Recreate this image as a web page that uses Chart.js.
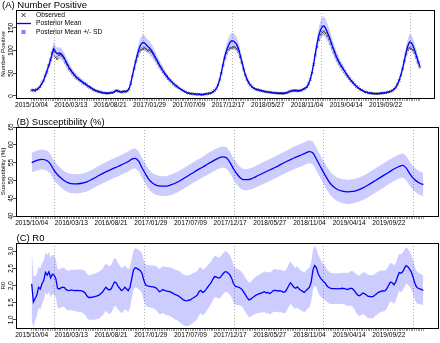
<!DOCTYPE html>
<html><head><meta charset="utf-8">
<script src="https://cdn.jsdelivr.net/npm/chart.js@4.4.1/dist/chart.umd.min.js"></script>
<style>
html,body{margin:0;padding:0;background:#fff;width:440px;height:343px;overflow:hidden}
canvas{position:absolute;left:0}
</style></head><body>
<canvas id="cA" width="440" height="112" style="top:0"></canvas>
<canvas id="cB" width="440" height="116" style="top:112px"></canvas>
<canvas id="cC" width="440" height="115" style="top:228px"></canvas>
<script>
// ---- x axis (weeks since 2015/10/04) ----
const tickWeeks = [0,23,46,69,92,115,138,161,184,207];
const tickLabels = ['2015/10/04','2016/03/13','2016/08/21','2017/01/29','2017/07/09','2017/12/17','2018/05/27','2018/11/04','2019/04/14','2019/09/22'];
const yearStartWeeks = [13,65,117,169,221];

// ---- (A) Number Positive ----
const observedA = [
12,13,11,14,16,20,28,33,45,52, 68,80,95,100,85,82,90,91,88,83,
74,68,60,56,50,46,41,38,35,33, 29,27,25,21,19,17,14,12,11,9,
9,7,7,6,6,6,7,7,9,11, 12,10,9,8,10,9,11,15,27,44,
60,76,88,98,102,104,106,103,100,101, 97,92,85,79,72,65,60,53,48,43,
38,34,31,27,23,21,18,15,13,11, 9,7,6,5,5,4,4,3,4,3,
3,4,4,5,5,7,9,12,16,24, 35,50,67,83,94,102,105,106,108,107,
104,98,86,73,58,46,36,29,24,20, 17,15,14,13,12,11,10,9,9,8,
8,7,7,6,6,6,6,5,6,7, 8,10,11,12,12,11,11,12,13,15,
17,20,27,36,50,69,90,108,124,135, 140,142,138,132,125,115,105,96,87,79,
72,66,60,54,48,43,38,33,29,25, 21,18,15,13,11,9,8,7,6,6,
5,5,5,5,6,6,7,7,8,9, 10,12,15,19,26,34,46,60,77,92,
102,106,104,101,95,85,74,64];
const meanA = [
14,13,13,14,17,21,27,34,44,55, 66,78,92,104,97,93,95,94,90,84,
77,69,62,57,51,47,42,39,36,33, 30,28,25,22,20,17,15,13,11,10,
9,8,7,7,6,6,7,7,8,11, 12,10,9,9,10,10,11,16,28,45,
62,78,92,106,114,118,117,113,109,106, 101,95,88,81,74,67,61,55,49,44,
39,35,31,27,24,21,18,16,13,11, 9,7,6,5,5,4,4,4,4,3,
3,4,4,5,6,7,9,12,16,24, 36,52,70,87,100,110,118,122,121,118,
113,104,90,75,60,47,37,29,24,20, 17,15,14,13,12,11,10,9,9,8,
8,7,7,7,6,6,6,6,6,7, 8,10,11,11,12,12,11,12,13,15,
17,20,27,37,52,72,95,116,134,146, 153,154,149,140,131,120,109,99,89,80,
73,67,61,55,49,43,38,33,29,25, 21,18,15,13,11,9,8,7,6,6,
5,5,5,5,6,6,7,7,8,9, 10,12,15,19,26,35,47,61,79,96,
110,119,118,111,101,89,77,66];
const sdA = [
3,3,3,3,3,4,4,5,6,8, 9,11,13,15,14,13,13,13,12,12,
11,10,9,8,8,7,7,6,6,5, 5,5,4,4,4,4,3,3,3,3,
3,3,2,2,2,2,2,2,2,3, 3,3,3,3,3,3,3,3,5,7,
9,11,13,15,16,17,17,16,15,15, 14,13,12,11,10,10,9,8,7,7,
6,5,5,4,4,4,3,3,3,3, 2,2,2,2,2,2,2,2,2,2,
2,2,2,2,2,2,2,3,3,4, 6,8,10,12,14,16,17,17,17,17,
16,15,13,11,9,7,6,5,4,4, 3,3,3,3,3,3,2,2,2,2,
2,2,2,2,2,2,2,2,2,2, 2,2,3,3,3,3,3,3,3,3,
3,4,5,6,8,10,13,16,18,20, 21,21,20,19,18,17,15,14,13,12,
11,10,9,8,7,6,6,5,5,4, 4,3,3,3,2,2,2,2,2,2,
2,2,2,2,2,2,2,2,2,2, 2,3,3,4,5,6,7,9,12,14,
16,17,17,16,15,13,12,10];
const yTicksA = [0,50,100,150];

// ---- (B) Susceptibility (%) ----
const weeksB = [0,3,6,9,11,13,15,17,19,21,23,26,29,32,35,38,41,44,47,50,53,56,58,60,62,64,66,68,70,72,75,78,81,84,87,90,93,96,99,102,105,108,111,113,115,117,119,121,123,125,128,131,134,137,140,143,146,149,152,155,158,161,163,165,167,169,171,173,175,177,180,183,186,189,192,195,198,201,204,207,210,213,215,217,219,221,223,225,227];
const meanB = [55.0,55.6,55.9,55.5,54.5,52.8,51.6,50.7,49.9,49.4,49.1,49.0,49.2,49.6,50.3,51.1,51.9,52.6,53.3,53.9,54.6,55.3,56.0,56.2,55.4,53.5,51.8,50.2,49.3,48.7,48.4,48.4,48.8,49.4,50.2,51.1,52.0,52.9,53.7,54.6,55.4,56.2,56.6,56.3,55.0,53.2,51.8,50.7,50.2,50.2,50.6,51.3,52.0,52.7,53.4,54.1,54.9,55.6,56.3,56.9,57.5,58.1,57.7,56.0,54.2,52.4,50.7,49.2,48.2,47.5,47.0,46.8,46.9,47.3,47.9,48.7,49.6,50.5,51.4,52.3,53.2,53.9,54.2,53.5,52.0,50.7,49.8,49.2,48.8];
const sdB = [2.8,2.8,2.8,2.8,2.8,2.8,2.7,2.7,2.7,2.7,2.7,2.7,2.7,2.7,2.7,2.7,2.8,2.8,2.8,2.8,2.8,2.8,2.8,2.8,2.8,2.8,2.8,2.8,2.8,2.8,2.8,2.8,2.9,2.9,2.9,2.9,2.9,2.9,2.9,3.0,3.0,3.0,3.0,3.0,3.0,3.0,3.0,3.0,3.0,3.0,3.0,3.0,3.1,3.1,3.1,3.1,3.1,3.1,3.2,3.2,3.2,3.2,3.2,3.2,3.2,3.2,3.3,3.3,3.3,3.3,3.4,3.4,3.4,3.4,3.4,3.4,3.4,3.4,3.4,3.4,3.4,3.4,3.4,3.4,3.4,3.3,3.3,3.3,3.3];
const yTicksB = [40,45,50,55,60,65];

// ---- (C) R0 ----
const meanC = [
2.05,1.52,1.62,1.72,1.95,1.90,2.05,2.15,2.38,2.30, 2.40,2.22,2.33,2.30,2.20,1.92,1.90,1.93,1.95,1.94,
1.88,1.86,1.85,1.87,1.86,1.85,1.86,1.85,1.85,1.84, 1.82,1.78,1.70,1.65,1.65,1.66,1.67,1.68,1.70,1.72,
1.76,1.80,1.88,1.95,1.90,1.87,1.90,2.00,2.10,2.08, 1.98,1.92,1.85,1.88,1.95,1.90,1.85,1.95,2.20,2.45,
2.52,2.50,2.47,2.43,2.35,2.15,2.02,1.99,1.98,1.97, 1.96,1.95,1.93,1.88,1.82,1.84,1.88,1.86,1.84,1.83,
1.82,1.80,1.77,1.74,1.72,1.70,1.66,1.62,1.58,1.56, 1.55,1.57,1.58,1.62,1.65,1.68,1.72,1.82,1.86,1.80,
1.82,1.88,1.95,2.02,2.08,2.18,2.26,2.25,2.22,2.22, 2.28,2.35,2.40,2.40,2.36,2.30,2.20,2.05,1.98,1.96,
1.95,1.92,1.88,1.80,1.72,1.64,1.58,1.60,1.65,1.68, 1.72,1.74,1.76,1.78,1.80,1.82,1.78,1.80,1.76,1.80,
1.85,1.86,1.85,1.84,1.85,1.83,1.80,1.82,1.90,2.00, 2.08,2.02,1.95,1.92,1.96,1.90,1.86,1.83,1.80,1.85,
1.90,1.95,2.10,2.45,2.58,2.52,2.35,2.25,2.18,2.12, 2.08,2.00,1.95,1.92,1.91,1.91,1.91,1.90,1.91,1.91,
1.92,1.91,1.90,1.88,1.90,1.92,1.90,1.85,1.78,1.72, 1.70,1.74,1.78,1.76,1.72,1.68,1.68,1.67,1.68,1.72,
1.76,1.80,1.82,1.84,1.84,1.85,1.92,2.02,2.10,2.08, 2.02,2.10,2.25,2.38,2.36,2.40,2.50,2.58,2.55,2.48,
2.40,2.25,2.08,1.96,1.92,1.90,1.88,1.86];
const sdC = [
1.05,0.75,0.65,0.62,0.60,0.60,0.60,0.58,0.58,0.58, 0.58,0.58,0.58,0.56,0.55,0.56,0.57,0.57,0.57,0.57,
0.57,0.58,0.58,0.59,0.60,0.60,0.61,0.62,0.62,0.63, 0.63,0.64,0.64,0.65,0.66,0.66,0.67,0.67,0.68,0.68,
0.68,0.68,0.69,0.69,0.70,0.70,0.70,0.70,0.70,0.69, 0.68,0.67,0.66,0.65,0.64,0.63,0.62,0.60,0.58,0.57,
0.57,0.57,0.57,0.58,0.58,0.59,0.60,0.60,0.61,0.62, 0.62,0.63,0.64,0.65,0.66,0.67,0.68,0.69,0.70,0.70,
0.71,0.72,0.72,0.73,0.73,0.74,0.74,0.74,0.74,0.74, 0.74,0.74,0.73,0.73,0.72,0.71,0.70,0.69,0.68,0.67,
0.66,0.65,0.64,0.63,0.62,0.61,0.60,0.60,0.60,0.60, 0.60,0.60,0.60,0.59,0.58,0.57,0.56,0.55,0.54,0.53,
0.52,0.51,0.50,0.50,0.50,0.50,0.50,0.51,0.52,0.53, 0.54,0.55,0.56,0.57,0.58,0.59,0.60,0.60,0.61,0.61,
0.62,0.62,0.62,0.62,0.62,0.62,0.62,0.62,0.62,0.62, 0.62,0.61,0.61,0.60,0.60,0.59,0.58,0.58,0.58,0.58,
0.58,0.58,0.58,0.58,0.58,0.57,0.56,0.55,0.53,0.51, 0.50,0.48,0.47,0.46,0.45,0.45,0.45,0.45,0.45,0.45,
0.45,0.46,0.47,0.48,0.49,0.50,0.52,0.54,0.56,0.58, 0.59,0.60,0.61,0.62,0.63,0.63,0.63,0.63,0.63,0.62,
0.62,0.61,0.61,0.60,0.60,0.59,0.58,0.57,0.56,0.56, 0.56,0.55,0.55,0.55,0.55,0.55,0.54,0.53,0.52,0.51,
0.50,0.49,0.48,0.47,0.46,0.45,0.44,0.44];
const yTicksC = [1.0,1.5,2.0,2.5,3.0];

// ---------------- drawing ----------------
const FONT = '"Liberation Sans", Arial, sans-serif';
const nWeeks = meanA.length;
const allWeeks = meanA.map((_, i) => i);
const pad = (nWeeks - 1) * 0.04;
const pts = (xs, ys) => ys.map((v, i) => ({x: xs[i], y: v}));
const BAND = 'rgba(0,0,255,0.2)';

function xAxis(h) {
  return {
    type: 'linear', min: -pad, max: nWeeks - 1 + pad,
    afterBuildTicks: s => { s.ticks = allWeeks.map(w => ({value: w})); },
    afterFit: s => { s.height = h; },
    ticks: {autoSkip: false, maxRotation: 0, minRotation: 0, padding: 0, color: '#000',
      font: {family: FONT, size: 6.6},
      callback: v => { const i = tickWeeks.indexOf(v); return i >= 0 ? tickLabels[i] : ''; }},
    grid: {drawOnChartArea: false, drawTicks: true, tickLength: 3, color: '#555', lineWidth: 0.6},
    border: {display: false}
  };
}
function yAxis(min, max, ticks) {
  return {
    type: 'linear', min, max,
    afterBuildTicks: s => { s.ticks = ticks.map(v => ({value: v})); },
    afterFit: s => { s.width = 16; },
    ticks: {display: false},
    grid: {drawOnChartArea: false, drawTicks: true, tickLength: 3, color: '#000', lineWidth: 0.7},
    border: {display: false}
  };
}
function decor(cfg) {
  return {
    id: 'decor',
    beforeDatasetsDraw(chart) {
      const ctx = chart.ctx, ca = chart.chartArea, xs = chart.scales.x;
      ctx.save();
      ctx.strokeStyle = '#9a9a9a'; ctx.lineWidth = 0.8; ctx.setLineDash([1, 2]);
      yearStartWeeks.forEach(w => {
        const x = Math.round(xs.getPixelForValue(w)) + 0.5;
        ctx.beginPath(); ctx.moveTo(x, ca.top); ctx.lineTo(x, ca.bottom); ctx.stroke();
      });
      ctx.restore();
    },
    afterDraw(chart) {
      const ctx = chart.ctx, ca = chart.chartArea, ys = chart.scales.y;
      ctx.save();
      ctx.strokeStyle = '#000'; ctx.lineWidth = 1;
      ctx.strokeRect(Math.round(ca.left) + 0.5, Math.round(ca.top) + 0.5,
        Math.round(ca.right - ca.left) - 1, Math.round(ca.bottom - ca.top));
      ctx.fillStyle = '#000';
      ctx.font = cfg.titleSize + 'px ' + FONT;
      ctx.textAlign = 'left'; ctx.textBaseline = 'alphabetic';
      ctx.fillText(cfg.title, cfg.titleX, ca.top - 2);
      ctx.font = '6.3px ' + FONT;
      ctx.textAlign = 'center'; ctx.textBaseline = 'middle';
      cfg.yticks.forEach(v => {
        const y = ys.getPixelForValue(v);
        ctx.save(); ctx.translate(10.8, y); ctx.rotate(-Math.PI / 2);
        ctx.fillText(cfg.fmt(v), 0, 0); ctx.restore();
      });
      ctx.font = '6.2px ' + FONT;
      ctx.save(); ctx.translate(3.4, (ca.top + ca.bottom) / 2); ctx.rotate(-Math.PI / 2);
      ctx.fillText(cfg.ytitle, 0, 0); ctx.restore();
      if (cfg.legend) {
        ctx.font = '6.7px ' + FONT; ctx.textAlign = 'left';
        const lx = 23.5, tx = 36;
        ctx.strokeStyle = '#222'; ctx.lineWidth = 0.9;
        ctx.beginPath(); ctx.moveTo(lx - 2, 13); ctx.lineTo(lx + 2, 17); ctx.moveTo(lx - 2, 17); ctx.lineTo(lx + 2, 13); ctx.stroke();
        ctx.fillText(cfg.legend[0], tx, 15.5);
        ctx.strokeStyle = '#0000ff'; ctx.lineWidth = 1.3;
        ctx.beginPath(); ctx.moveTo(17, 23.5); ctx.lineTo(31, 23.5); ctx.stroke();
        ctx.fillText(cfg.legend[1], tx, 23.5);
        ctx.fillStyle = '#8080ff'; ctx.fillRect(lx - 2, 30, 4, 4);
        ctx.fillStyle = '#000';
        ctx.fillText(cfg.legend[2], tx, 32);
      }
      ctx.restore();
    }
  };
}
function baseOpts(padTop, xh, ymin, ymax, yticks) {
  return {
    responsive: false, animation: false, devicePixelRatio: 1,
    layout: {padding: {top: padTop, right: 1, left: 0, bottom: 0}},
    plugins: {legend: {display: false}, tooltip: {enabled: false}},
    scales: {x: xAxis(xh), y: yAxis(ymin, ymax, yticks)},
    elements: {point: {radius: 0}}
  };
}
function bandSets(xs, mean, sd) {
  return [
    {data: pts(xs, mean.map((m, i) => m - sd[i])), borderWidth: 0, pointRadius: 0, fill: false, order: 3},
    {data: pts(xs, mean.map((m, i) => m + sd[i])), borderWidth: 0, pointRadius: 0, fill: '-1', backgroundColor: BAND, order: 2}
  ];
}

new Chart(document.getElementById('cA'), {
  type: 'line',
  data: {datasets: [
    ...bandSets(allWeeks, meanA, sdA),
    {data: pts(allWeeks, observedA), showLine: false, pointStyle: 'crossRot', pointRadius: 1.8,
     pointBorderWidth: 0.7, pointBorderColor: '#333', order: 1},
    {data: pts(allWeeks, meanA), borderColor: '#0000ff', borderWidth: 1.3, pointRadius: 0, order: 0}
  ]},
  options: baseOpts(10, 14, -4.5, 189.5, yTicksA),
  plugins: [decor({title: '(A) Number Positive', titleX: 2, titleSize: 9.5, yticks: yTicksA, fmt: v => String(v),
    ytitle: 'Number Positive', legend: ['Observed', 'Posterior Mean', 'Posterior Mean +/- SD']})]
});

new Chart(document.getElementById('cB'), {
  type: 'line',
  data: {datasets: [
    ...bandSets(weeksB, meanB, sdB),
    {data: pts(weeksB, meanB), borderColor: '#0000ff', borderWidth: 1.3, pointRadius: 0, tension: 0.3, cubicInterpolationMode: 'monotone', order: 0}
  ]},
  options: baseOpts(15, 12, 40, 65, yTicksB),
  plugins: [decor({title: '(B) Susceptibility (%)', titleX: 16.5, titleSize: 9.5, yticks: yTicksB, fmt: v => String(v),
    ytitle: 'Susceptibility (%)'})]
});

new Chart(document.getElementById('cC'), {
  type: 'line',
  data: {datasets: [
    ...bandSets(allWeeks, meanC, sdC),
    {data: pts(allWeeks, meanC), borderColor: '#0000ff', borderWidth: 1.3, pointRadius: 0, order: 0}
  ]},
  options: baseOpts(15, 15, 0.76, 3.24, yTicksC),
  plugins: [decor({title: '(C) R0', titleX: 16.5, titleSize: 9.5, yticks: yTicksC, fmt: v => v.toFixed(1),
    ytitle: 'R0'})]
});
</script>
</body></html>
